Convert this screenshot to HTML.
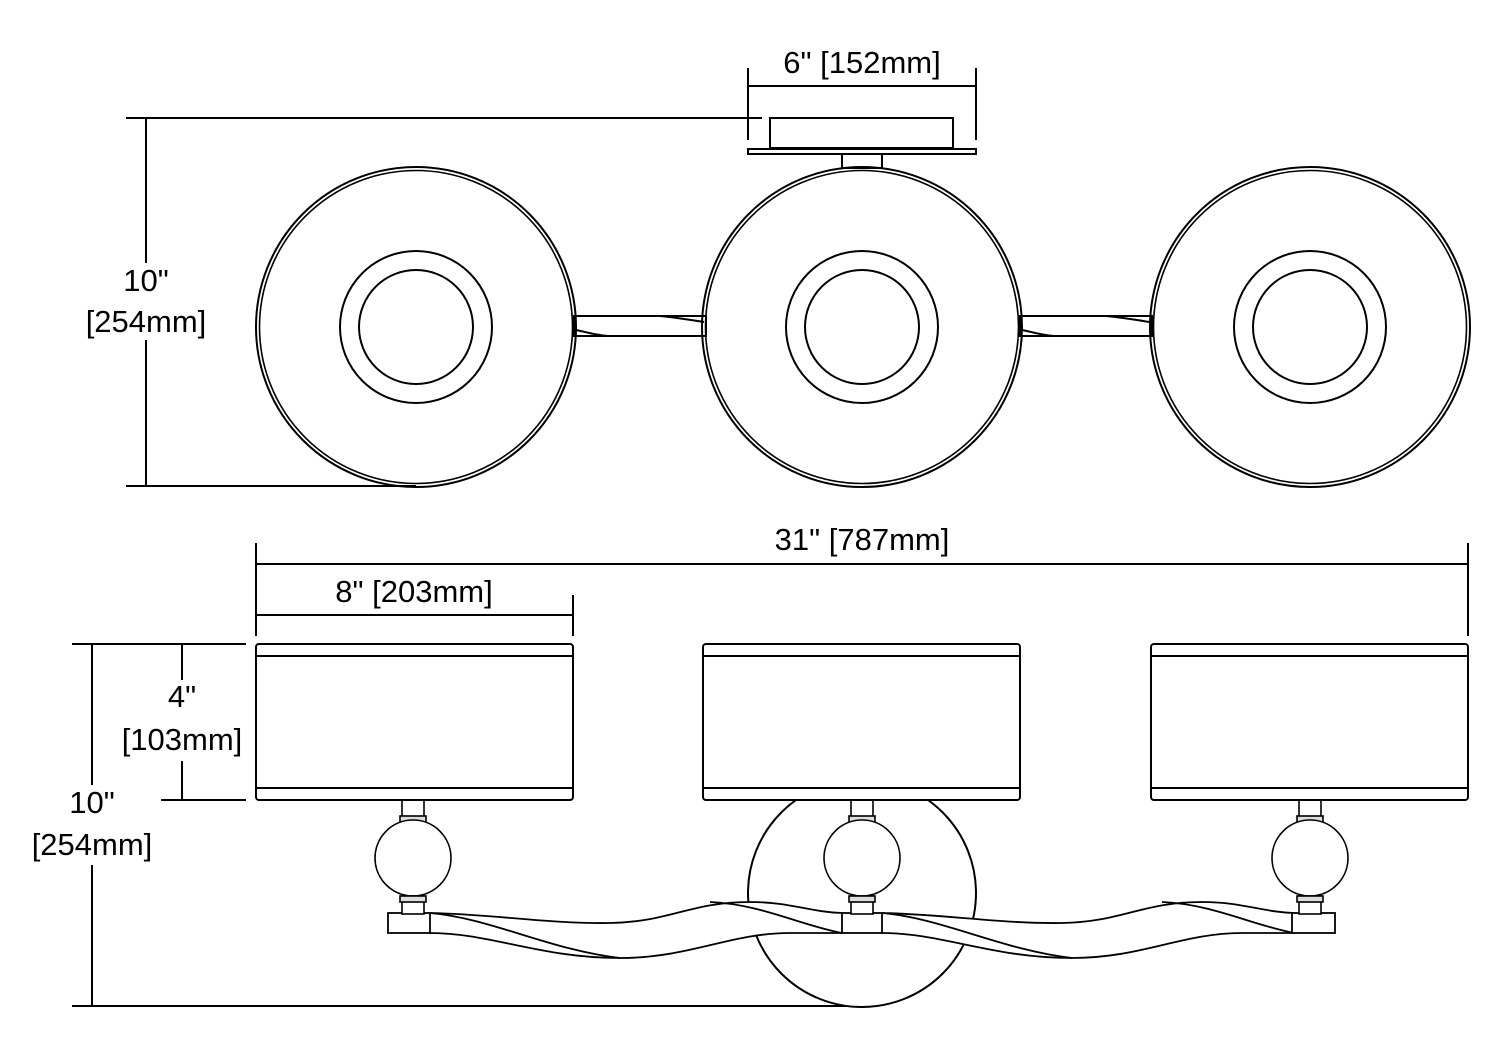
<!DOCTYPE html>
<html><head><meta charset="utf-8"><style>
html,body{margin:0;padding:0;background:#fff;}
svg{display:block;}
text{font-family:"Liberation Sans",Arial,sans-serif;font-size:31px;fill:#000;}
</style></head><body>
<svg width="1500" height="1059" viewBox="0 0 1500 1059" xmlns="http://www.w3.org/2000/svg">
<defs>
<g id="tc">
  <circle r="160" fill="none" stroke="#000" stroke-width="2"/>
  <circle r="156.5" fill="none" stroke="#000" stroke-width="1.6"/>
  <circle r="76" fill="none" stroke="#000" stroke-width="2"/>
  <circle r="57" fill="none" stroke="#000" stroke-width="2"/>
</g>
<g id="shade">
  <rect x="0" y="644" width="317" height="156" rx="3" fill="#fff" stroke="#000" stroke-width="2"/>
  <line x1="0" y1="656" x2="317" y2="656" stroke="#000" stroke-width="2"/>
  <line x1="0" y1="788" x2="317" y2="788" stroke="#000" stroke-width="2"/>
</g>
<g id="ball" fill="#fff" stroke="#000" stroke-width="1.6">
  <rect x="-11" y="800" width="22" height="20"/>
  <rect x="-13" y="816" width="26" height="6" fill="#ddd"/>
  <circle cx="0" cy="858" r="38"/>
  <rect x="-11" y="896" width="22" height="18"/>
  <rect x="-13" y="896" width="26" height="6" fill="#ddd"/>
</g>
<g id="wave" stroke="#000" stroke-width="1.8">
  <path fill="#fff" stroke="none" d="M0,913 C60,914 120,924 180,923 C240,922 260,902 320,902 C360,902 380,912 412,913 L412,933 L360,933 C300,933 260,958 190,958 C110,958 60,933 0,933 Z"/>
  <g fill="none">
  <path d="M0,913 C60,914 120,924 180,923 C240,922 260,902 320,902 C360,902 380,912 412,913"/>
  <path d="M0,933 C60,933 110,958 190,958 C260,958 300,933 360,933 L412,933"/>
  <path d="M0,913 C60,918 120,950 190,958"/>
  <path d="M280,902 C330,904 370,925 412,933"/>
  </g>
</g>
</defs>

<!-- TOP VIEW -->
<g stroke="#000" stroke-width="2" fill="none">
  <line x1="748" y1="68" x2="748" y2="140"/>
  <line x1="976" y1="68" x2="976" y2="140"/>
  <line x1="748" y1="86" x2="976" y2="86"/>
  <line x1="126" y1="118" x2="762" y2="118"/>
  <line x1="126" y1="486" x2="416" y2="486"/>
  <line x1="146" y1="118" x2="146" y2="263"/>
  <line x1="146" y1="340" x2="146" y2="486"/>
  <rect x="770" y="118" width="183" height="30"/>
  <rect x="748" y="149" width="228" height="5"/>
  <rect x="842" y="154" width="40" height="14"/>
  <rect x="574" y="316" width="132" height="20"/>
  <path d="M660,316 C680,318 690,320 704,322 M576,330 C590,333 600,336 610,336"/>
  <rect x="1020" y="316" width="132" height="20"/>
  <path d="M1106,316 C1126,318 1136,320 1150,322 M1022,330 C1036,333 1046,336 1056,336"/>
</g>
<use href="#tc" x="416" y="327"/>
<use href="#tc" x="862" y="327"/>
<use href="#tc" x="1310" y="327"/>
<text x="862" y="73" text-anchor="middle">6" [152mm]</text>
<text x="146" y="291" text-anchor="middle">10"</text>
<text x="146" y="332" text-anchor="middle">[254mm]</text>

<!-- FRONT VIEW -->
<g stroke="#000" stroke-width="2" fill="none">
  <line x1="256" y1="543" x2="256" y2="636"/>
  <line x1="1468" y1="543" x2="1468" y2="636"/>
  <line x1="256" y1="564" x2="1468" y2="564"/>
  <line x1="573" y1="595" x2="573" y2="636"/>
  <line x1="256" y1="615" x2="573" y2="615"/>
  <line x1="72" y1="644" x2="246" y2="644"/>
  <line x1="161" y1="800" x2="246" y2="800"/>
  <line x1="182" y1="644" x2="182" y2="680"/>
  <line x1="182" y1="761" x2="182" y2="800"/>
  <line x1="92" y1="644" x2="92" y2="785"/>
  <line x1="92" y1="865" x2="92" y2="1006"/>
  <line x1="72" y1="1006" x2="862" y2="1006"/>
  <circle cx="862" cy="893" r="114" fill="#fff"/>
</g>
<use href="#wave" x="430" y="0"/>
<use href="#wave" x="882" y="0"/>
<g fill="#fff" stroke="#000" stroke-width="1.8">
  <rect x="388" y="913" width="42" height="20"/>
  <rect x="842" y="913" width="40" height="20"/>
  <rect x="1292" y="913" width="43" height="20"/>
</g>
<use href="#ball" x="413" y="0"/>
<use href="#ball" x="862" y="0"/>
<use href="#ball" x="1310" y="0"/>
<use href="#shade" x="256" y="0"/>
<use href="#shade" x="703" y="0"/>
<use href="#shade" x="1151" y="0"/>
<text x="862" y="550" text-anchor="middle">31" [787mm]</text>
<text x="414" y="602" text-anchor="middle">8" [203mm]</text>
<text x="182" y="707" text-anchor="middle">4"</text>
<text x="182" y="750" text-anchor="middle">[103mm]</text>
<text x="92" y="813" text-anchor="middle">10"</text>
<text x="92" y="855" text-anchor="middle">[254mm]</text>
</svg>
</body></html>
